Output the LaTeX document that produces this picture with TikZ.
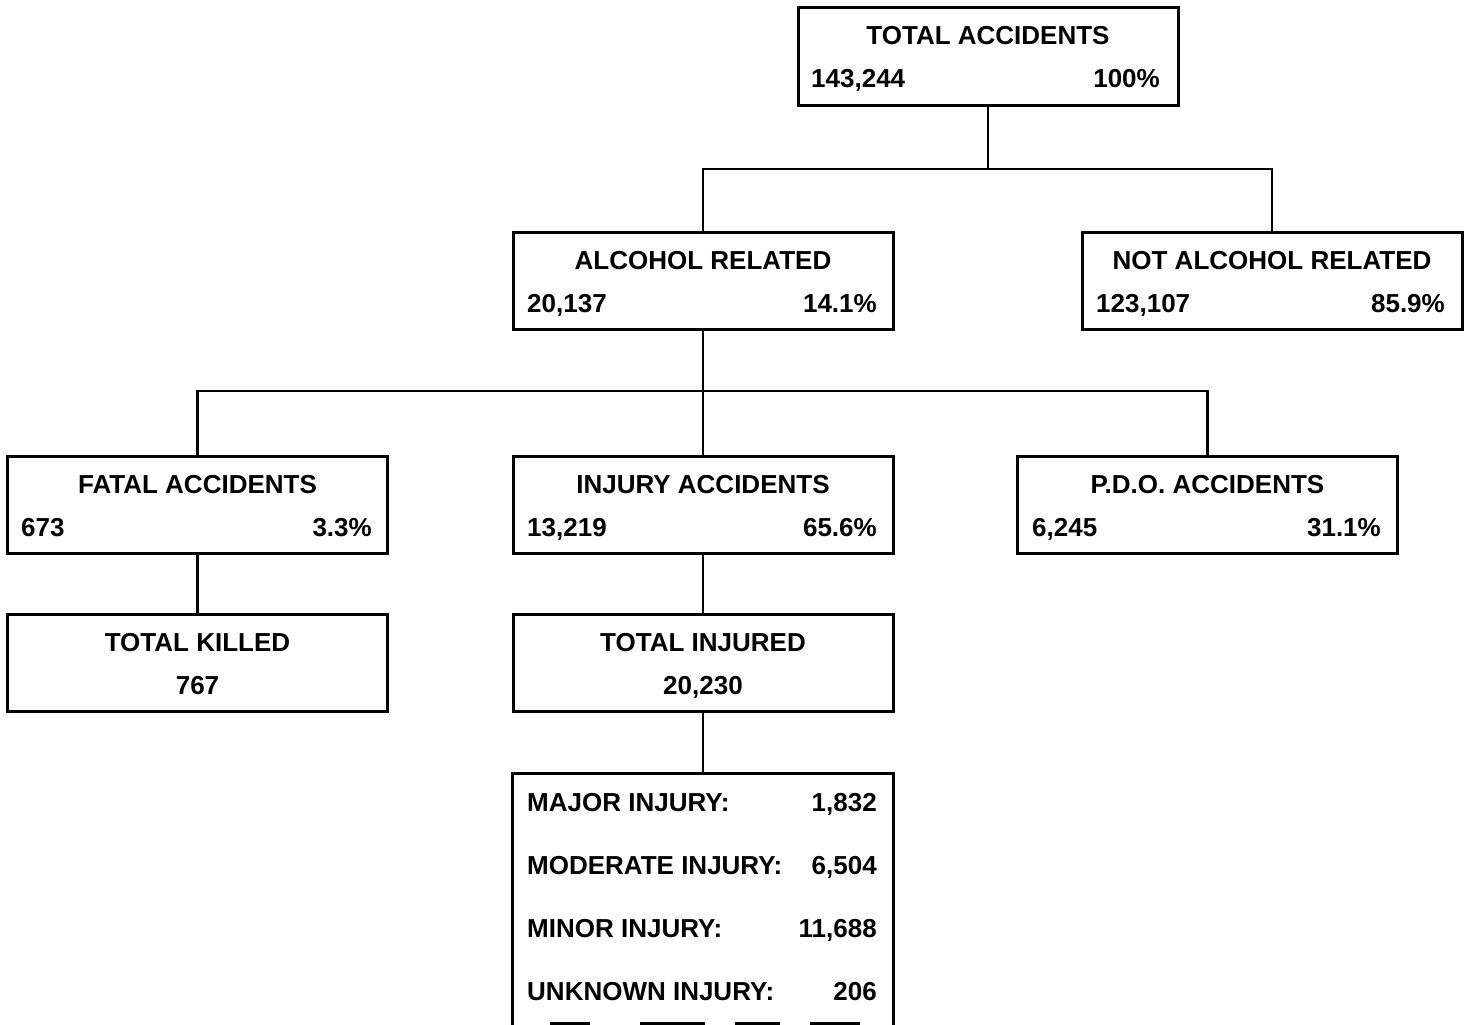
\documentclass[tikz,border=0pt]{standalone}
\usepackage{fontspec}
\setmainfont{Liberation Sans}
\begin{document}
\begin{tikzpicture}[x=1pt,y=-1pt,
  box/.style={draw,line width=3pt,minimum width=380pt,minimum height=97pt,inner sep=0pt},
  conn/.style={line width=2.4pt},
  txt/.style={inner sep=0pt,anchor=base,font=\fontsize{26}{30}\selectfont\bfseries},
  lt/.style={txt,anchor=base west},
  rt/.style={txt,anchor=base east}]
\useasboundingbox[fill=white] (0,0) rectangle (1467,1025);
% boxes
\node[box] (total) at (988,56.5) {};
\node[box] (alc) at (703,280.5) {};
\node[box] (nalc) at (1272,280.5) {};
\node[box] (fatal) at (197.5,504.5) {};
\node[box] (inj) at (703,504.5) {};
\node[box] (pdo) at (1207.5,504.5) {};
\node[box] (killed) at (197.5,663) {};
\node[box] (injured) at (703,663) {};
\node[inner sep=0pt,minimum width=380pt,minimum height=252pt,anchor=north] (brk) at (703,773) {};
\draw[line width=3pt] (brk.south west) -- (brk.north west) -- (brk.north east) -- (brk.south east);
% bottom fragments
\foreach \a/\b in {550/590,640/705,735/780,810/860}
  \draw[line width=3pt] (\a,1023.5) -- (\b,1023.5);
% connectors
\draw[conn] (total.south) -- (total.south |- 0,169) -| (alc.north);
\draw[conn] (total.south |- 0,169) -| (nalc.north);
\draw[conn] (alc.south) -- (alc.south |- 0,391) -| (fatal.north);
\draw[conn] (alc.south |- 0,391) -| (pdo.north);
\draw[conn] (alc.south |- 0,391) -- (inj.north);
\draw[conn] (fatal.south) -- (killed.north);
\draw[conn] (inj.south) -- (injured.north);
\draw[conn] (injured.south) -- (brk.north);
% texts
\node[txt] (t1) at (988,45) {TOTAL ACCIDENTS};
\node[lt] (t2) at (811,88) {143,244};
\node[rt] (t3) at (1160,88) {100\%};
\node[txt] (a1) at (703,269) {ALCOHOL RELATED};
\node[lt] (a2) at (527,312) {20,137};
\node[rt] (a3) at (877,312) {14.1\%};
\node[txt] (n1) at (1272,269) {NOT ALCOHOL RELATED};
\node[lt] (n2) at (1096,312) {123,107};
\node[rt] (n3) at (1445,312) {85.9\%};
\node[txt] (f1) at (197.5,493) {FATAL ACCIDENTS};
\node[lt] (f2) at (21,536) {673};
\node[rt] (f3) at (372,536) {3.3\%};
\node[txt] (i1) at (703,493) {INJURY ACCIDENTS};
\node[lt] (i2) at (527,536) {13,219};
\node[rt] (i3) at (877,536) {65.6\%};
\node[txt] (p1) at (1207.5,493) {P.D.O. ACCIDENTS};
\node[lt] (p2) at (1032,536) {6,245};
\node[rt] (p3) at (1381,536) {31.1\%};
\node[txt] (k1) at (197.5,651) {TOTAL KILLED};
\node[txt] (k2) at (197.5,694) {767};
\node[txt] (j1) at (703,651) {TOTAL INJURED};
\node[txt] (j2) at (703,694) {20,230};
\node[lt] (b1) at (527,811) {MAJOR INJURY:};
\node[rt] (b2) at (877,811) {1,832};
\node[lt] (b3) at (527,874) {MODERATE INJURY:};
\node[rt] (b4) at (877,874) {6,504};
\node[lt] (b5) at (527,937) {MINOR INJURY:};
\node[rt] (b6) at (877,937) {11,688};
\node[lt] (b7) at (527,1000) {UNKNOWN INJURY:};
\node[rt] (b8) at (877,1000) {206};
\end{tikzpicture}
\end{document}
